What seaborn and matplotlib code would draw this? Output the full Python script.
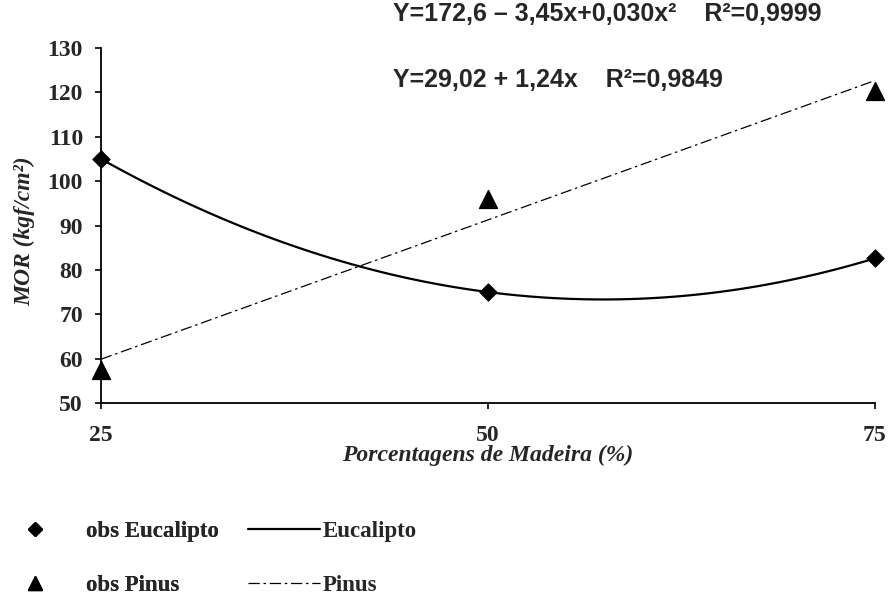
import matplotlib
matplotlib.use("Agg")
import matplotlib.pyplot as plt
from matplotlib.lines import Line2D
import seaborn as sns
import pandas as pd

# ---- data ----
porcentagem = [25, 50, 75]
mor_eucalipto = [105.0, 75.0, 82.6]
mor_pinus = [57.5, 96.0, 120.3]
x_ticks = [25, 50, 75]
y_ticks = [50, 60, 70, 80, 90, 100, 110, 120, 130]
eq_eucalipto = "Y=172,6 \u2013 3,45x+0,030x\u00b2    R\u00b2=0,9999"
eq_pinus = "Y=29,02 + 1,24x    R\u00b2=0,9849"

df_euc = pd.DataFrame({"x": porcentagem, "y": mor_eucalipto})
df_pin = pd.DataFrame({"x": porcentagem, "y": mor_pinus})

sns.set_style("white")
plt.rcParams["font.family"] = ["Liberation Serif", "DejaVu Serif"]

W, H = 890, 594
fig = plt.figure(figsize=(W / 100, H / 100), dpi=100)
ax = fig.add_axes([101 / W, 1 - 403 / H, 774 / W, 355 / H])

# fitted curves (computed by seaborn from the observations)
sns.regplot(data=df_euc, x="x", y="y", order=2, ci=None, scatter=False,
            color="black", line_kws={"lw": 1.6}, ax=ax, truncate=True)
sns.regplot(data=df_pin, x="x", y="y", order=1, ci=None, scatter=False,
            color="black", line_kws={"lw": 0.9, "ls": (0, (9, 3, 2, 3))}, ax=ax, truncate=True)

# observations
sns.scatterplot(data=df_euc, x="x", y="y", marker="D", s=78, color="black",
                edgecolor="black", ax=ax, zorder=5, clip_on=False)
sns.scatterplot(data=df_pin, x="x", y="y", marker="^", s=165, color="black",
                edgecolor="black", ax=ax, zorder=5, clip_on=False)

ax.set_xlim(25, 75)
ax.set_ylim(50, 130)
ax.set_xticks(x_ticks)
ax.set_yticks(y_ticks)
ax.set_xticklabels([str(v) for v in x_ticks])
ax.set_yticklabels([str(v) for v in y_ticks])

for s in ["top", "right"]:
    ax.spines[s].set_visible(False)
for s in ["left", "bottom"]:
    ax.spines[s].set_color("black")
    ax.spines[s].set_linewidth(1.3)

ax.tick_params(axis="both", which="major", direction="out", length=4, width=1.2,
               color="black", labelsize=17, left=True, bottom=True)
ax.tick_params(axis="y", pad=9)
ax.tick_params(axis="x", pad=12)
for lab in ax.get_xticklabels() + ax.get_yticklabels():
    lab.set_fontweight("bold")

ax.set_xlabel("Porcentagens de Madeira (%)", fontsize=17, fontweight="bold",
              fontstyle="italic")
ax.set_ylabel("MOR (kgf/cm\u00b2)", fontsize=17, fontweight="bold",
              fontstyle="italic")
ax.xaxis.set_label_coords(0.5, -0.119)
ax.yaxis.set_label_coords((35 - 101) / 774, (403 - 231) / 355)

# equations
eq_font = {"family": ["Liberation Sans", "DejaVu Sans"], "size": 18, "weight": "bold"}
fig.text(393 / W, 1 - 21 / H, eq_eucalipto, ha="left", va="baseline", **eq_font)
fig.text(393 / W, 1 - 87 / H, eq_pinus, ha="left", va="baseline", **eq_font)

# legends
prop = {"family": ["Liberation Serif"], "weight": "bold", "size": 16.5}
h_obs = [Line2D([], [], marker="D", ls="none", color="black", ms=7),
         Line2D([], [], marker="^", ls="none", color="black", ms=9.5)]
leg1 = fig.legend(handles=h_obs, labels=["obs Eucalipto", "obs Pinus"],
                  loc="upper left", bbox_to_anchor=(21 / W, 1 - 521 / H),
                  frameon=False, prop=prop, handlelength=1.2, handletextpad=1.64,
                  labelspacing=1.42, borderpad=0, borderaxespad=0, numpoints=1)
h_lines = [Line2D([], [], color="black", lw=1.6),
           Line2D([], [], color="black", lw=0.9, ls=(0, (9, 3, 2, 3)))]
leg2 = fig.legend(handles=h_lines, labels=["Eucalipto", "Pinus"],
                  loc="upper left", bbox_to_anchor=(248 / W, 1 - 521 / H),
                  frameon=False, prop=prop, handlelength=3.14, handletextpad=0.1,
                  labelspacing=1.42, borderpad=0, borderaxespad=0)
fig.add_artist(leg1)

fig.savefig("out.png", dpi=100)
